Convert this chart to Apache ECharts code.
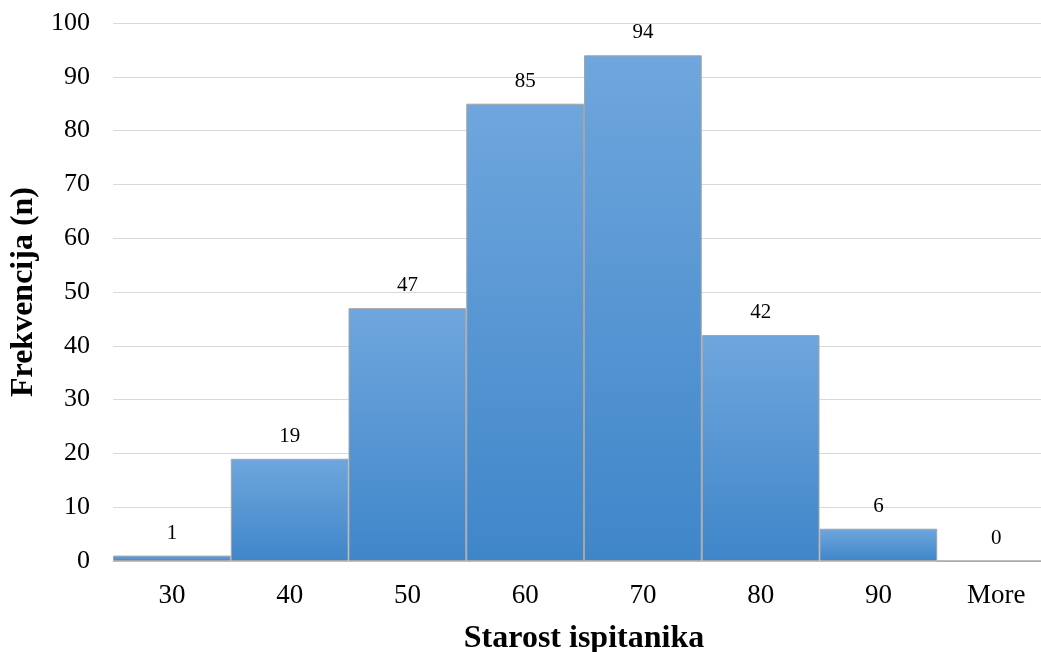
<!DOCTYPE html>
<html><head><meta charset="utf-8">
<script src="https://cdn.jsdelivr.net/npm/echarts@6/dist/echarts.min.js"></script>
<style>html,body{margin:0;padding:0;background:#fff;overflow:hidden;width:1041px;height:652px}#c{width:1055px;height:652px}</style>
</head><body><div id="c"></div>
<script>
var categories = ['30','40','50','60','70','80','90','More'];
var frequencies = [1,19,47,85,94,42,6,0];
var yTicks = [0,10,20,30,40,50,60,70,80,90,100];

var chart = echarts.init(document.getElementById('c'));
var font = '"Liberation Serif","Times New Roman",serif';
chart.setOption({
  animation:false,
  grid:{left:113,right:0,top:23,bottom:91,containLabel:false,outerBoundsMode:'none'},
  xAxis:{type:'category',data:categories,
    axisLine:{lineStyle:{color:'#bfbfbf',width:1}},
    axisTick:{show:false},
    axisLabel:{color:'#000',fontFamily:font,fontSize:27,margin:21},
    name:'Starost ispitanika',nameLocation:'middle',nameGap:62,
    nameTextStyle:{color:'#000',fontFamily:font,fontSize:32,fontWeight:'bold'}},
  yAxis:{type:'value',min:yTicks[0],max:yTicks[yTicks.length-1],interval:10,
    axisLine:{show:false},axisTick:{show:false},
    splitLine:{lineStyle:{color:'#d9d9d9',width:1}},
    axisLabel:{color:'#000',fontFamily:font,fontSize:26,margin:23},
    name:'Frekvencija (n)',nameLocation:'middle',nameGap:69,nameRotate:90,
    nameTextStyle:{color:'#000',fontFamily:font,fontSize:32,fontWeight:'bold'}},
  series:[{type:'bar',data:frequencies,barCategoryGap:'0%',
    itemStyle:{borderColor:'#a6a6a6',borderWidth:1,
      color:new echarts.graphic.LinearGradient(0,0,0,1,[{offset:0,color:'#6fa6dd'},{offset:1,color:'#3f86c9'}],false)},
    label:{show:true,position:'top',distance:12,color:'#000',fontFamily:font,fontSize:21}}]
});
</script></body></html>
